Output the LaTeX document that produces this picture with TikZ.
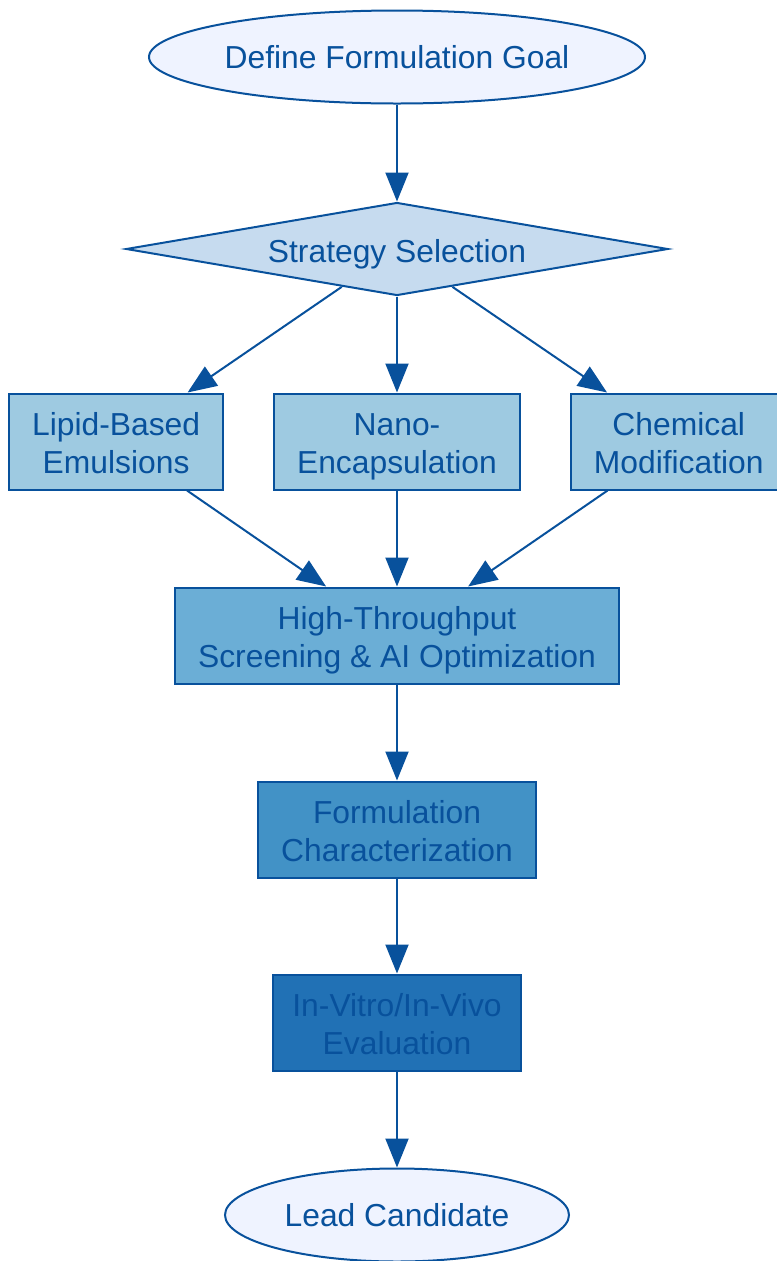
\documentclass[tikz,border=0pt]{standalone}
\usepackage{fontspec}
\setmainfont{Liberation Sans}
\usepackage{tikz}
\usetikzlibrary{positioning}
\usetikzlibrary{arrows.meta}
\usetikzlibrary{shapes.geometric}
\definecolor{lineblue}{HTML}{08519C}
\definecolor{blues1}{HTML}{EFF3FF}
\definecolor{blues2}{HTML}{C6DBEF}
\definecolor{blues3}{HTML}{9ECAE1}
\definecolor{blues4}{HTML}{6BAED6}
\definecolor{blues5}{HTML}{4292C6}
\definecolor{blues6}{HTML}{2171B5}
\newcommand{\diamondtopstrut}{\rule{0pt}{18.8pt}}
\newcommand{\diamondbotstrut}{\rule[-4pt]{0pt}{4pt}}
\tikzset{
  myarrow/.style={
    draw=lineblue,
    line width=0.04cm,
    -{Triangle[length=0.58cm,width=0.46cm]},
  },
  myellipse/.style={
    draw=lineblue,
    fill=blues1,
    shape=ellipse,
    line width=0.04cm,
    inner sep=0pt,
    minimum height=1.86cm,
    text=lineblue,
    font=\fontsize{18.1}{21.6}\selectfont
  },
  mydiamond/.style={
    draw=lineblue,
    fill=blues2,
    shape=diamond,
    aspect=5.7,
    line width=0.04cm,
    inner sep=0pt,
    minimum width=10.84cm,
    minimum height=1.86cm,
    text=lineblue,
    execute at begin node=\diamondtopstrut,
    execute at end node=\diamondbotstrut,
    font=\fontsize{18.1}{21.6}\selectfont
  },
  myrectangle/.style={
    draw=lineblue,
    shape=rectangle,
    line width=0.04cm,
    align=center,
    inner xsep=0.46cm,
    inner ysep=0pt,
    text height=36.2pt,
    text depth=0pt,
    minimum height=1.92cm,
    text=lineblue,
    font=\fontsize{18.1}{21.6}\selectfont
  },
}

\begin{document}
\begin{tikzpicture}
    \useasboundingbox (-7.94,1.14) rectangle (7.6,-24.08);

    \node[myellipse, minimum width=9.92cm] (goal) {Define Formulation Goal};
    \node[mydiamond] (strategy) [below=1.94cm of goal] {Strategy Selection};

    \node[myrectangle, fill=blues3] (nano)     [below=1.92cm of strategy] {Nano-\\Encapsulation};
    \node[myrectangle, fill=blues3] (lipid)    [left=0.98cm of nano]      {Lipid-Based\\Emulsions};
    \node[myrectangle, fill=blues3] (chemical) [right=0.98cm of nano]     {Chemical\\Modification};

    \node[myrectangle, fill=blues4] (screening)        [below=1.92cm of nano]             {High-Throughput\\Screening \& AI Optimization};
    \node[myrectangle, fill=blues5] (characterization) [below=1.92cm of screening]        {Formulation\\Characterization};
    \node[myrectangle, fill=blues6, inner xsep=0.39cm] (evaluation) [below=1.9cm of characterization] {In-Vitro/In-Vivo\\Evaluation};
    \node[myellipse, minimum width=6.88cm] (lead)      [below=1.92cm of evaluation]       {Lead Candidate};

    \draw[myarrow] (goal) -- (strategy);

    \draw[myarrow] (strategy) -- (lipid);
    \draw[myarrow] (strategy) -- (nano);
    \draw[myarrow] (strategy) -- (chemical);

    \draw[myarrow] (lipid)    -- (screening);
    \draw[myarrow] (nano)     -- (screening);
    \draw[myarrow] (chemical) -- (screening);

    \draw[myarrow] (screening)        -- (characterization);
    \draw[myarrow] (characterization) -- (evaluation);
    \draw[myarrow] (evaluation)       -- (lead);
  \end{tikzpicture}
\end{document}
